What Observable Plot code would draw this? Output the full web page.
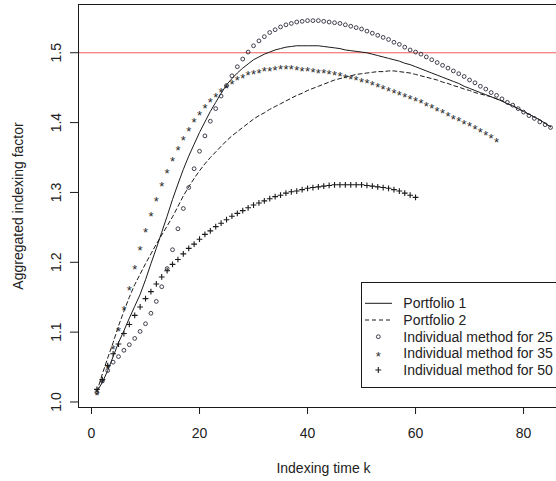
<!DOCTYPE html>
<html><head><meta charset="utf-8">
<script src="https://cdn.jsdelivr.net/npm/d3@7"></script>
<script src="https://cdn.jsdelivr.net/npm/@observablehq/plot@0.6"></script>
<style>html,body{margin:0;padding:0;background:#fff;overflow:hidden}</style>
</head><body><div id="chart"></div>
<script>
// ---- data ----
const xTicks = [0, 20, 40, 60, 80];
const yTicks = [1.0, 1.1, 1.2, 1.3, 1.4, 1.5];
const refLevel = 1.5;

const portfolio1 = [1.015,1.028,1.045,1.065,1.085,1.102,1.120,1.137,1.154,1.175,1.198,1.220,1.243,1.266,1.290,1.312,1.333,1.352,1.369,1.386,
1.401,1.416,1.429,1.442,1.454,1.463,1.471,1.478,1.484,1.490,1.494,1.498,1.501,1.504,1.506,1.508,1.509,1.510,1.510,1.510,
1.510,1.510,1.509,1.508,1.507,1.506,1.504,1.503,1.502,1.501,1.500,1.498,1.496,1.494,1.492,1.490,1.488,1.485,1.483,1.480,
1.477,1.474,1.471,1.468,1.465,1.462,1.459,1.456,1.452,1.449,1.446,1.443,1.440,1.437,1.434,1.431,1.427,1.424,1.420,1.416,
1.412,1.408,1.404,1.399,1.394];

const portfolio2 = [1.015,1.040,1.063,1.085,1.109,1.130,1.150,1.168,1.183,1.198,1.212,1.226,1.239,1.252,1.265,1.280,1.295,1.308,1.320,1.331,
1.341,1.350,1.358,1.366,1.374,1.381,1.387,1.393,1.399,1.405,1.410,1.414,1.419,1.423,1.427,1.431,1.435,1.439,1.442,1.446,
1.449,1.452,1.455,1.458,1.461,1.463,1.465,1.467,1.469,1.470,1.471,1.472,1.473,1.473,1.474,1.474,1.473,1.472,1.471,1.469,
1.467,1.465,1.463,1.461,1.458,1.456,1.453,1.451,1.448,1.446,1.443,1.441,1.439,1.437,1.434,1.431,1.427,1.424,1.420,1.416,
1.412,1.408,1.404,1.399,1.394];

const ind25 = [1.014,1.030,1.045,1.057,1.065,1.074,1.082,1.091,1.101,1.112,1.127,1.144,1.165,1.191,1.218,1.248,1.277,1.307,1.334,1.359,
1.381,1.402,1.420,1.438,1.453,1.467,1.480,1.491,1.501,1.510,1.517,1.523,1.529,1.533,1.537,1.540,1.542,1.544,1.545,1.546,
1.546,1.546,1.545,1.544,1.543,1.542,1.540,1.538,1.536,1.534,1.531,1.528,1.525,1.522,1.519,1.515,1.512,1.508,1.504,1.501,
1.498,1.494,1.490,1.486,1.482,1.478,1.474,1.470,1.466,1.461,1.457,1.452,1.448,1.443,1.439,1.434,1.429,1.425,1.420,1.415,
1.410,1.406,1.401,1.397,1.393];

const ind35 = [1.014,1.032,1.052,1.079,1.105,1.135,1.164,1.194,1.221,1.247,1.270,1.292,1.313,1.331,1.349,1.364,1.379,1.392,1.404,1.415,
1.424,1.433,1.440,1.447,1.453,1.459,1.464,1.468,1.471,1.473,1.475,1.477,1.478,1.479,1.480,1.480,1.480,1.479,1.478,1.477,
1.476,1.475,1.474,1.473,1.471,1.470,1.468,1.466,1.464,1.462,1.460,1.457,1.455,1.452,1.449,1.446,1.443,1.440,1.437,1.434,
1.431,1.427,1.424,1.420,1.417,1.413,1.409,1.406,1.402,1.398,1.394,1.390,1.386,1.382,1.376];

const ind50 = [1.018,1.032,1.052,1.069,1.083,1.098,1.111,1.124,1.136,1.148,1.158,1.169,1.179,1.188,1.197,1.204,1.212,1.220,1.226,1.233,
1.240,1.245,1.251,1.256,1.261,1.266,1.270,1.274,1.278,1.282,1.285,1.288,1.291,1.294,1.296,1.299,1.301,1.302,1.304,1.306,
1.307,1.308,1.309,1.310,1.311,1.311,1.311,1.311,1.311,1.311,1.310,1.309,1.308,1.307,1.306,1.304,1.302,1.299,1.296,1.293];

const legendLabels = ["Portfolio 1", "Portfolio 2", "Individual method for 25", "Individual method for 35", "Individual method for 50"];
const xTitle = "Indexing time k";
const yTitle = "Aggregated indexing factor";

// ---- build rows ----
const rows = arr => arr.map((v, i) => ({k: i + 1, v}));
const FONT = "'Liberation Sans', Arial, sans-serif";
const INK = "#1a1a1a";

const marks = [
  Plot.ruleY([refLevel], {stroke: "#f05a5a", strokeWidth: 1}),
  Plot.line(rows(portfolio1), {x: "k", y: "v", stroke: INK, strokeWidth: 1}),
  Plot.line(rows(portfolio2), {x: "k", y: "v", stroke: INK, strokeWidth: 1, strokeDasharray: "4,3"}),
  Plot.dot(rows(ind25), {x: "k", y: "v", r: 1.9, stroke: "#2a2a3a", strokeWidth: 0.9, fill: "none"}),
  Plot.text(rows(ind35), {x: "k", y: "v", text: () => "*", fontSize: 13, dy: 3.3, fill: "#2a2a2a"}),
  Plot.dot(rows(ind50), {x: "k", y: "v", symbol: "plus", r: 2, stroke: INK, strokeWidth: 1.1}),
  Plot.frame({anchor: "top", stroke: INK}),
  Plot.frame({anchor: "left", stroke: INK}),
  Plot.frame({anchor: "bottom", stroke: INK}),
  Plot.axisX(xTicks, {anchor: "bottom", tickSize: 7, tickPadding: 14, fontSize: 14, label: null, stroke: INK}),
  Plot.axisY(yTicks, {anchor: "left", tickSize: 8, tickPadding: 10, tickRotate: -90, fontSize: 14, label: null, tickFormat: d => d.toFixed(1), stroke: INK})
];

const chart = Plot.plot({
  width: 556,
  height: 481,
  marginLeft: 78,
  marginRight: 0,
  marginTop: 4,
  marginBottom: 74,
  style: {fontFamily: FONT, fontSize: "14px", color: "#222", background: "#fff"},
  x: {domain: [-2.41, 86.1], label: null},
  y: {domain: [0.9921, 1.5691], label: null},
  marks
});
document.getElementById("chart").appendChild(chart);

// ---- titles and legend (layout, drawn after the plot) ----
const svg = d3.select(chart);
svg.append("text").attr("x", 323.5).attr("y", 473).attr("text-anchor", "middle")
  .attr("font-family", FONT).attr("font-size", 14).attr("fill", "#222").text(xTitle);
svg.append("text").attr("transform", "translate(23,206) rotate(-90)").attr("text-anchor", "middle")
  .attr("font-family", FONT).attr("font-size", 14).attr("fill", "#222").text(yTitle);

const lg = svg.append("g");
lg.append("rect").attr("x", 361.5).attr("y", 282.5).attr("width", 220).attr("height", 105)
  .attr("fill", "#fff").attr("stroke", INK).attr("stroke-width", 1);
const rowY = [303.3, 320, 336.7, 353.3, 370];
legendLabels.forEach((lab, i) => {
  const y = rowY[i];
  if (i === 0 || i === 1) {
    lg.append("line").attr("x1", 365).attr("x2", 392).attr("y1", y).attr("y2", y)
      .attr("stroke", INK).attr("stroke-width", 1).attr("stroke-dasharray", i === 1 ? "4,3" : null);
  } else if (i === 2) {
    lg.append("circle").attr("cx", 378.3).attr("cy", y).attr("r", 1.9).attr("fill", "none").attr("stroke", "#2a2a3a").attr("stroke-width", 0.9);
  } else if (i === 3) {
    lg.append("text").attr("x", 378.3).attr("y", y + 3.3).attr("dy", "0.32em").attr("text-anchor", "middle")
      .attr("font-family", FONT).attr("font-size", 13).attr("fill", "#2a2a2a").text("*");
  } else {
    lg.append("path").attr("d", `M${375.4},${y}h5.8M${378.3},${y - 2.9}v5.8`).attr("stroke", INK).attr("stroke-width", 1.1);
  }
  lg.append("text").attr("x", 403.3).attr("y", y).attr("dy", "0.35em").attr("text-anchor", "start")
    .attr("font-family", FONT).attr("font-size", 14).attr("fill", "#222").text(lab);
});
</script></body></html>
